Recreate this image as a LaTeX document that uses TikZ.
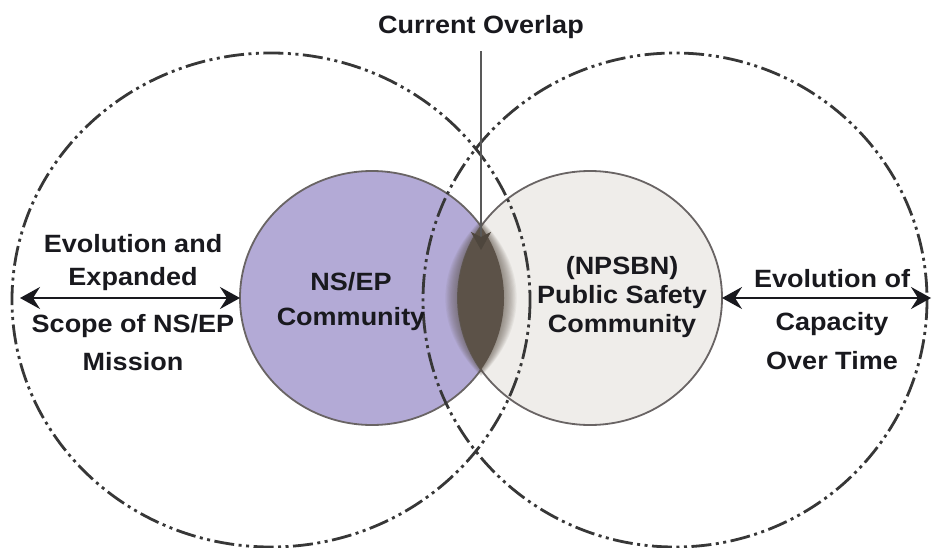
\documentclass[tikz,border=0pt]{standalone}
\usepackage{fontspec}
\setmainfont{Liberation Sans}[FakeStretch=1.08]
\usetikzlibrary{arrows.meta,shapes.geometric}
\definecolor{nsepfill}{RGB}{179,170,214}
\definecolor{psfill}{RGB}{239,237,234}
\definecolor{ringline}{RGB}{105,100,100}
\definecolor{scopeline}{RGB}{55,55,55}
\definecolor{lenscol}{RGB}{92,82,72}
\definecolor{txtcol}{RGB}{25,25,30}
\begin{document}
\begin{tikzpicture}[x=1pt,y=-1pt,
    lbl/.style={anchor=base, inner sep=0pt, text=txtcol, font=\fontsize{25}{30}\selectfont\bfseries},
    community/.style={ellipse, draw=ringline, line width=1.8pt, inner sep=0pt, outer sep=0pt,
        minimum width=264pt, minimum height=254pt},
    scopering/.style={draw=scopeline, line width=2.8pt,
        dash pattern=on 20pt off 4.5pt on 3pt off 4.5pt on 3pt off 4.5pt},
    growarrow/.style={draw=txtcol, line width=2.2pt,
        {Stealth[length=20pt,width=22pt,inset=7pt]}-{Stealth[length=20pt,width=22pt,inset=7pt]}},
    overarrow/.style={draw=black!65, line width=1.6pt,
        -{Stealth[length=18pt,width=20pt,inset=5pt,color=lenscol!85!black]}}]
    \useasboundingbox (0,0) rectangle (933,548);
    % the two communities
    \node[community, fill=nsepfill] (nsep) at (372,298) {};
    \node[community, fill=psfill] (psc) at (590,298) {};
    % current overlap, soft edged
    \foreach \s in {1.55,1.50,...,1.04}{
        \begin{scope}[shift={(481,298)}, xscale=\s, yscale={1+(\s-1)/6}, shift={(-481,-298)}]
            \clip (372,298) ellipse [x radius=132, y radius=127];
            \fill[lenscol, opacity=0.07] (590,298) ellipse [x radius=132, y radius=127];
        \end{scope}
    }
    \begin{scope}
        \clip (372,298) ellipse [x radius=132, y radius=127];
        \fill[lenscol] (590,298) ellipse [x radius=132, y radius=127];
    \end{scope}
    % future scope of both
    \draw[scopering] (271,300) ellipse [x radius=259, y radius=247];
    \draw[scopering] (675,300) ellipse [x radius=252, y radius=247];
    % labels
    \foreach \txt/\x/\y [count=\k] in {{Current Overlap}/481/34,
        {Evolution and}/133/252, {Expanded}/133/285, {Scope of NS/EP}/133/332, {Mission}/133/370,
        {Evolution of}/832/287, {Capacity}/832/330, {Over Time}/832/369,
        {NS/EP}/351/290, {Community}/351/325,
        {(NPSBN)}/622/274, {Public Safety}/622/303, {Community}/622/332}{
        \node[lbl] (lbl\k) at (\x,\y) {\txt};
    }
    \coordinate (leftend) at (20,298);
    \coordinate (rightend) at (931,298);
    \coordinate (ovtip) at (481,250);
    \draw[growarrow] (nsep.west) -- (leftend);
    \draw[growarrow] (psc.east) -- (rightend);
    \draw[overarrow] ([yshift=-12pt]lbl1.south) -- (ovtip);
\end{tikzpicture}
\end{document}
